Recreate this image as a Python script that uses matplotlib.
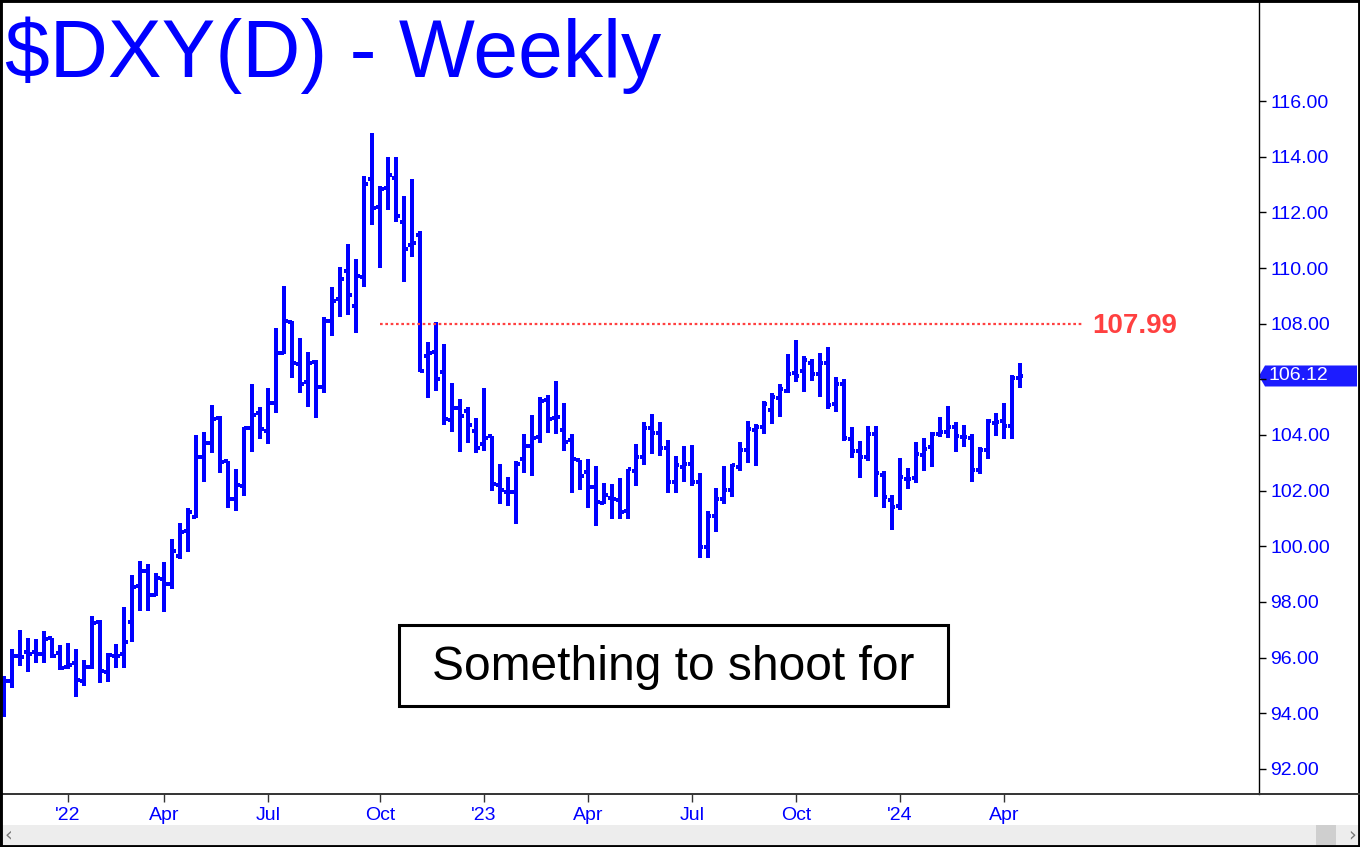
import matplotlib
matplotlib.use('Agg')
import matplotlib.pyplot as plt
import matplotlib.transforms as mtransforms
from matplotlib.patches import Rectangle, Polygon
from matplotlib.lines import Line2D
import numpy as np
import pandas as pd

plt.rcParams['font.family'] = ['Liberation Sans', 'DejaVu Sans']

# weekly bars, week starting Monday
first_week = '2021-11-08'
opens = [94.27, 95.16, 96.05, 96.19, 96.19, 96.12, 96.69, 96.15, 95.65, 95.80,
         95.16, 95.66, 97.29, 95.47, 96.05, 96.12, 97.27, 98.59, 99.10, 98.24,
         98.81, 98.64, 99.66, 100.56, 101.06, 103.20, 103.70, 104.62, 103.07, 101.69,
         102.16, 104.24, 104.78, 104.14, 105.14, 106.93, 108.05, 106.54, 105.89, 106.62,
         105.71, 108.09, 108.87, 109.89, 108.63, 109.66, 113.19, 112.18, 112.86, 113.24,
         111.65, 110.83, 111.19, 106.84, 106.98, 106.25, 104.54, 104.97, 104.86, 104.14,
         103.68, 103.98, 102.19, 101.95, 101.95, 103.12, 103.59, 103.91, 105.26, 104.60,
         104.17, 103.82, 103.10, 102.66, 102.12, 101.57, 101.72, 101.66, 101.27, 102.70,
         103.20, 104.24, 104.07, 103.55, 102.30, 102.84, 102.96, 102.30, 99.99, 101.09,
         101.69, 102.02, 102.86, 103.46, 104.18, 104.27, 104.90, 105.32, 105.58, 106.22,
         106.30, 106.58, 106.19, 106.58, 105.11, 105.83, 103.86, 103.42, 103.20, 104.04,
         102.58, 101.66, 101.44, 102.42, 102.44, 103.28, 103.56, 104.03, 104.12, 104.27,
         103.94, 103.88, 102.74, 103.46, 104.44, 104.50, 104.32, 106.04]
highs = [95.34, 96.31, 96.99, 96.69, 96.67, 96.96, 96.72, 96.44, 96.51, 96.31,
         95.91, 97.50, 97.35, 96.15, 96.49, 97.82, 98.97, 99.47, 99.36, 99.04,
         99.45, 100.27, 100.82, 101.37, 104.00, 104.09, 105.08, 104.68, 103.07, 102.78,
         104.27, 105.83, 105.02, 105.68, 107.83, 109.35, 108.09, 107.47, 106.97, 106.69,
         108.25, 109.30, 110.05, 110.86, 110.32, 113.30, 114.86, 112.95, 114.00, 114.00,
         112.59, 113.20, 111.33, 107.35, 108.07, 107.27, 105.86, 105.28, 104.99, 104.60,
         105.69, 103.98, 102.94, 102.48, 103.06, 104.03, 104.72, 105.35, 105.44, 105.94,
         105.14, 104.03, 103.10, 103.12, 102.89, 102.29, 102.24, 102.47, 102.78, 103.68,
         104.48, 104.75, 104.48, 103.82, 103.24, 103.60, 103.64, 102.62, 101.27, 102.08,
         102.88, 102.96, 103.76, 104.51, 104.38, 105.22, 105.52, 105.83, 106.91, 107.41,
         106.84, 106.73, 106.93, 107.17, 106.07, 106.00, 104.27, 103.78, 104.32, 104.32,
         102.71, 101.84, 103.18, 102.82, 103.74, 103.88, 104.12, 104.66, 105.04, 104.48,
         104.36, 104.03, 103.56, 104.56, 104.80, 105.16, 106.15, 106.57]
lows = [93.88, 94.92, 95.71, 95.50, 95.82, 95.82, 95.97, 95.55, 95.60, 94.60,
        94.99, 95.60, 95.10, 95.14, 95.64, 95.64, 96.57, 97.69, 97.69, 98.21,
        97.65, 98.48, 99.54, 99.78, 101.00, 102.32, 103.34, 102.62, 101.39, 101.28,
        101.82, 103.40, 103.84, 103.66, 104.80, 106.90, 106.06, 105.52, 105.02, 104.60,
        105.52, 107.57, 108.25, 108.31, 107.65, 109.33, 111.54, 110.01, 112.08, 111.66,
        109.51, 110.41, 106.27, 105.32, 105.59, 104.36, 104.09, 103.40, 103.72, 103.36,
        103.44, 101.99, 101.51, 101.46, 100.79, 102.62, 102.54, 103.73, 104.06, 104.02,
        103.42, 101.90, 102.02, 101.39, 100.74, 101.51, 100.98, 100.98, 100.98, 102.18,
        102.92, 103.32, 103.26, 101.90, 101.90, 102.30, 102.18, 99.57, 99.57, 100.53,
        101.51, 101.76, 102.72, 102.98, 102.90, 104.02, 104.38, 104.63, 105.50, 105.92,
        105.53, 105.95, 105.35, 104.92, 104.84, 103.78, 103.16, 102.44, 103.06, 101.76,
        101.39, 100.59, 101.30, 102.05, 102.28, 102.72, 102.86, 103.92, 103.88, 103.40,
        103.58, 102.32, 102.60, 103.14, 103.96, 103.86, 103.84, 105.70]
closes = [95.16, 96.05, 96.01, 96.12, 96.12, 96.66, 96.07, 95.61, 95.72, 95.20,
          95.66, 97.24, 95.52, 96.08, 96.05, 96.55, 98.53, 99.10, 98.24, 98.85,
          98.64, 99.83, 100.50, 101.23, 103.20, 103.70, 104.57, 103.02, 101.69, 102.20,
          104.24, 104.72, 104.20, 105.14, 106.93, 108.09, 106.57, 105.85, 106.57, 105.71,
          108.09, 108.81, 109.59, 109.03, 109.71, 113.01, 112.14, 112.83, 113.34, 111.87,
          110.67, 110.89, 106.30, 106.93, 106.00, 104.56, 104.97, 104.70, 104.36, 103.53,
          103.88, 102.23, 102.03, 101.95, 102.96, 103.59, 103.88, 105.22, 104.56, 104.63,
          103.76, 103.14, 102.53, 102.12, 101.58, 101.84, 101.69, 101.22, 102.76, 103.20,
          104.24, 104.06, 103.55, 102.32, 102.92, 102.94, 102.30, 99.99, 101.09, 101.69,
          102.02, 102.92, 103.46, 104.20, 104.27, 105.11, 105.35, 105.64, 106.19, 106.12,
          106.70, 106.19, 106.58, 105.08, 105.83, 103.88, 103.42, 103.22, 104.04, 102.62,
          101.78, 101.42, 102.50, 102.42, 103.30, 103.50, 104.02, 104.12, 104.27, 103.96,
          103.92, 102.74, 103.46, 104.51, 104.48, 104.32, 106.06, 106.12]

month_ticks = ['2022-01-01', '2022-04-01', '2022-07-01', '2022-10-01', '2023-01-01',
               '2023-04-01', '2023-07-01', '2023-10-01', '2024-01-01', '2024-04-01']
month_labels = ["'22", 'Apr', 'Jul', 'Oct', "'23", 'Apr', 'Jul', 'Oct', "'24", 'Apr']

target = 107.99
target_from = '2022-10-03'
target_to = '2024-06-08'

BLUE = '#0000FF'
RED = '#FF4040'

dates = pd.date_range(first_week, periods=len(closes), freq='W-MON')
fridays = dates + pd.Timedelta(days=4)
x = np.arange(len(dates))


def week_pos(d):
    return (pd.Timestamp(d) - dates[0]).days / 7.0


W, H = 1360, 847
fig = plt.figure(figsize=(W / 100, H / 100), dpi=100)
ax = fig.add_axes([0, 1 - 794 / H, 1259 / W, 794 / H])

# OHLC bars
ax.vlines(x, lows, highs, color=BLUE, lw=1.5, antialiased=False)
ax.hlines(opens, x - 0.45, x, color=BLUE, lw=1.5, antialiased=False)
ax.hlines(closes, x, x + 0.45, color=BLUE, lw=1.5, antialiased=False)

# target line
t0, t1 = week_pos(target_from), week_pos(target_to)
ax.hlines(target, t0, t1, color=RED, lw=1.6, linestyles=(0, (1.2, 1.2)))
ax.text(t1 + 1.3, target - 0.08, f'{target:.2f}', color=RED, fontsize=20,
        fontweight='bold', va='center', ha='left')

ax.set_xlim(-0.5, 156.9)
ax.set_ylim(91.10, 119.63)

ax.yaxis.tick_right()
ax.set_yticks(np.arange(92, 117, 2))
last = closes[-1]
ax.yaxis.set_major_formatter(matplotlib.ticker.FuncFormatter(
    lambda v, p: '' if abs(v - last) < 0.5 else f'{v:.2f}'))
ax.tick_params(axis='y', direction='out', length=5, width=1, color='black',
               labelcolor=BLUE, labelsize=14, pad=3)

# month ticks sit on the first bar whose week ends inside the month
tick_x = [int(np.searchsorted(fridays, pd.Timestamp(d))) for d in month_ticks]
ax.set_xticks(tick_x)
ax.set_xticklabels(month_labels)
ax.tick_params(axis='x', direction='out', length=6, width=1, color='#333333',
               labelcolor=BLUE, labelsize=14, pad=3)

for s in ['top', 'left']:
    ax.spines[s].set_visible(False)
ax.spines['right'].set_color('black')
ax.spines['right'].set_linewidth(1)
ax.spines['bottom'].set_color('#333333')
ax.spines['bottom'].set_linewidth(1.4)

# last price tag on the right axis
tr = mtransforms.blended_transform_factory(ax.transAxes, ax.transData)
px = 1 / 1259
h = 10.5 / 27.83
tag = Polygon([(1.0, last), (1 + 6 * px, last + h), (1 + 98 * px, last + h),
               (1 + 98 * px, last - h), (1 + 6 * px, last - h)],
              closed=True, transform=tr, fc='#1C1CFF', ec='none', clip_on=False)
ax.add_patch(tag)
ax.text(1 + 9 * px, last, f'{last:.2f}', transform=tr, color='white',
        fontsize=14, va='center', ha='left', clip_on=False)

# bottom axis line across the price column
fig.add_artist(Line2D([1259 / W, 1], [1 - 794 / H, 1 - 794 / H], color='#333333',
                      lw=1.4, transform=fig.transFigure))

# scroll bar
fig.add_artist(Rectangle((0, 1 - 845 / H), 1, 20 / H, transform=fig.transFigure,
                         fc='#EDEDED', ec='none'))
fig.add_artist(Rectangle((1316 / W, 1 - 845 / H), 20 / W, 20 / H,
                         transform=fig.transFigure, fc='#CFCFCF', ec='none'))
fig.text(5 / W, 1 - 835 / H, '‹', color='#777777', fontsize=14, va='center',
         family='DejaVu Sans')
fig.text(1348 / W, 1 - 835 / H, '›', color='#777777', fontsize=14, va='center',
         family='DejaVu Sans')

# title
fig.text(5 / W, 1 - 77 / H, '$DXY(D) - Weekly', color=BLUE, fontsize=58,
         va='baseline', ha='left')

# comment box
fig.add_artist(Rectangle((399 / W, 1 - 706 / H), 549 / W, 81 / H,
                         transform=fig.transFigure, fc='white', ec='black', lw=2.2))
fig.text(673 / W, 1 - 680 / H, 'Something to shoot for', color='black',
         fontsize=34.5, ha='center', va='baseline')

# window frame
fig.add_artist(Rectangle((0, 0), 1, 1, transform=fig.transFigure, fill=False,
                         ec='black', lw=3.5))

fig.savefig('out.png', dpi=100)
